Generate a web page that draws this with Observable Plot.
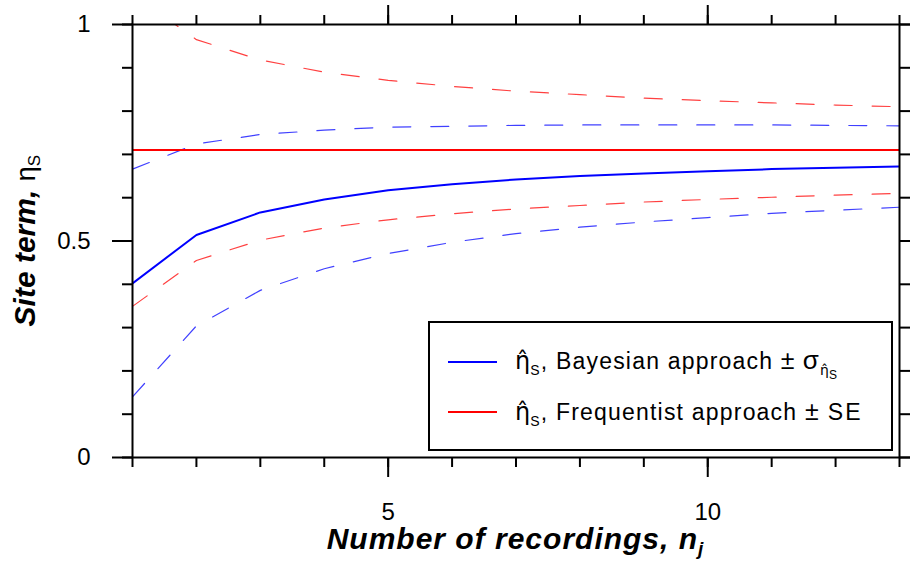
<!DOCTYPE html>
<html><head><meta charset="utf-8">
<script src="https://cdn.jsdelivr.net/npm/d3@7"></script>
<script src="https://cdn.jsdelivr.net/npm/@observablehq/plot@0.6"></script>
<style>body{margin:0;background:#fff;}</style>
</head><body><div id="chart"></div>
<script>
// ---- data ----
const recordings = [1, 2, 3, 4, 5, 6, 7, 8, 9, 10, 11, 12, 13];
const bayesianMean  = [0.402, 0.514, 0.566, 0.596, 0.617, 0.631, 0.642, 0.650, 0.656, 0.661, 0.666, 0.669, 0.672];
const bayesianUpper = [0.666, 0.724, 0.746, 0.756, 0.763, 0.765, 0.767, 0.768, 0.768, 0.768, 0.768, 0.767, 0.766];
const bayesianLower = [0.140, 0.304, 0.386, 0.436, 0.471, 0.497, 0.517, 0.532, 0.544, 0.554, 0.564, 0.571, 0.578];
const frequentistMean = 0.71;
const frequentistUpper = [1.071, 0.965, 0.918, 0.890, 0.871, 0.857, 0.846, 0.838, 0.830, 0.824, 0.819, 0.814, 0.810];
const frequentistLower = [0.349, 0.455, 0.502, 0.530, 0.549, 0.563, 0.574, 0.582, 0.590, 0.596, 0.601, 0.606, 0.610];

const xTicksMinor = recordings;
const xTicksMajor = [5, 10];
const xTickLabels = ["5", "10"];
const yTicksMinor = [0, 0.1, 0.2, 0.3, 0.4, 0.5, 0.6, 0.7, 0.8, 0.9, 1];
const yTicksMajor = [0, 0.5, 1];
const yTickLabels = ["0", "0.5", "1"];

const rows = recordings.map((n, i) => ({
  n, bm: bayesianMean[i], bu: bayesianUpper[i], bl: bayesianLower[i],
  fu: frequentistUpper[i], fl: frequentistLower[i]
}));

const FONT = '"Liberation Sans", Arial, sans-serif';
const GREEK = '"DejaVu Sans", "Liberation Sans", sans-serif';
const BLUE = "#0000ff", RED = "#ff0000";
const dash = {strokeWidth: 1.2, strokeDasharray: "18,20", strokeOpacity: 0.75, clip: true};
const blank = () => "";

const chart = Plot.plot({
  width: 910, height: 569,
  marginLeft: 132, marginRight: 11, marginTop: 24, marginBottom: 112,
  style: {fontFamily: FONT, fontSize: "24px", background: "#fff", color: "#000"},
  x: {domain: [1, 13]},
  y: {domain: [0, 1]},
  marks: [
    Plot.line(rows, {x: "n", y: "fu", stroke: RED, ...dash}),
    Plot.line(rows, {x: "n", y: "fl", stroke: RED, ...dash}),
    Plot.line(rows, {x: "n", y: "bu", stroke: BLUE, ...dash}),
    Plot.line(rows, {x: "n", y: "bl", stroke: BLUE, ...dash}),
    Plot.ruleY([frequentistMean], {stroke: RED, strokeWidth: 2}),
    Plot.line(rows, {x: "n", y: "bm", stroke: BLUE, strokeWidth: 2, clip: true}),
    // axes: minor and major ticks on all four sides
    Plot.axisX(xTicksMinor, {anchor: "bottom", tickSize: 10, tickFormat: blank, label: null, strokeWidth: 2}),
    Plot.axisX(xTicksMajor, {anchor: "bottom", tickSize: 20, tickPadding: 25, fontSize: 24,
      tickFormat: d => xTickLabels[xTicksMajor.indexOf(d)], label: null, strokeWidth: 2}),
    Plot.axisX(xTicksMinor, {anchor: "top", tickSize: 10, tickFormat: blank, label: null, strokeWidth: 2}),
    Plot.axisX(xTicksMajor, {anchor: "top", tickSize: 20, tickFormat: blank, label: null, strokeWidth: 2}),
    Plot.axisY(yTicksMinor, {anchor: "left", tickSize: 10, tickFormat: blank, label: null, strokeWidth: 2}),
    Plot.axisY(yTicksMajor, {anchor: "left", tickSize: 20, tickPadding: 22, fontSize: 24,
      tickFormat: d => yTickLabels[yTicksMajor.indexOf(d)], label: null, strokeWidth: 2}),
    Plot.axisY(yTicksMinor, {anchor: "right", tickSize: 10, tickFormat: blank, label: null, strokeWidth: 2}),
    Plot.axisY(yTicksMajor, {anchor: "right", tickSize: 20, tickFormat: blank, label: null, strokeWidth: 2}),
    Plot.frame({stroke: "#000", strokeWidth: 2})
  ]
});
document.getElementById("chart").append(chart);

// ---- titles and legend (rich text with sub/superscripts) ----
const svg = d3.select(chart);
const HAT_ETA = "\u03B7\u0302";

// x-axis title
const xt = svg.append("text")
  .attr("x", 515.5).attr("y", 549)
  .attr("text-anchor", "middle")
  .style("font-family", FONT).style("font-size", "30px")
  .style("font-weight", "bold").style("font-style", "italic")
  .style("letter-spacing", "1px").attr("fill", "#000");
xt.append("tspan").text("Number of recordings, n");
xt.append("tspan").attr("dy", 6).style("font-size", "19px").text("j");

// y-axis title
const yt = svg.append("text")
  .attr("transform", "translate(35,240.7) rotate(-90)")
  .attr("text-anchor", "middle")
  .style("font-family", FONT).style("font-size", "30px").attr("fill", "#000");
yt.append("tspan").style("font-weight", "bold").style("font-style", "italic").text("Site term, ");
yt.append("tspan").style("font-size", "27px").text("\u03B7");
yt.append("tspan").attr("dy", 5).style("font-size", "17px").text("S");

// legend
const lg = svg.append("g");
lg.append("rect").attr("x", 429).attr("y", 322).attr("width", 463).attr("height", 128)
  .attr("fill", "#fff").attr("stroke", "#000").attr("stroke-width", 2);
const entries = [
  {color: BLUE, y: 362, base: 369, text: ", Bayesian approach ", tail: "sigma"},
  {color: RED, y: 412, base: 420, text: ", Frequentist approach ", tail: "SE"}
];
entries.forEach(e => {
  lg.append("line").attr("x1", 448).attr("x2", 497).attr("y1", e.y).attr("y2", e.y)
    .attr("stroke", e.color).attr("stroke-width", 2);
  const t = lg.append("text").attr("x", 515).attr("y", e.base)
    .attr("text-anchor", "start")
    .style("font-family", FONT).style("font-size", "23px")
    .style("letter-spacing", "1.2px").attr("fill", "#000");
  t.append("tspan").style("font-family", GREEK).style("font-size", "24px")
    .style("letter-spacing", "0px").text(HAT_ETA);
  t.append("tspan").attr("dy", 6).style("font-size", "14px").text("S");
  t.append("tspan").attr("dy", -6).text(e.text);
  t.append("tspan").style("font-size", "25px").text("\u00B1");
  if (e.tail === "sigma") {
    t.append("tspan").attr("dx", 7).style("font-size", "26px").text("\u03C3");
    t.append("tspan").attr("dy", 6).style("font-family", GREEK).style("font-size", "14px")
      .style("letter-spacing", "0px").text(HAT_ETA);
    t.append("tspan").attr("dy", 4).style("font-size", "12px").style("letter-spacing", "0px").text("S");
  } else {
    t.append("tspan").attr("dx", 8).style("letter-spacing", "2px").text("SE");
  }
});
</script>
</body></html>
